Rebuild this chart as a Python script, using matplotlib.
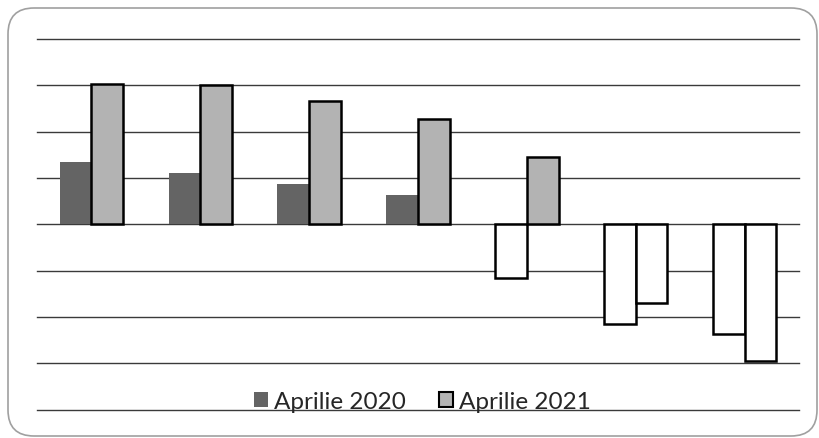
import matplotlib.pyplot as plt
from matplotlib.patches import FancyBboxPatch, Patch
from matplotlib.transforms import IdentityTransform
import numpy as np

grupe = ['1', '2', '3', '4', '5', '6', '7']
aprilie_2020 = [1.34, 1.10, 0.86, 0.64, -1.16, -2.15, -2.37]
aprilie_2021 = [3.02, 3.00, 2.67, 2.27, 1.46, -1.70, -2.94]

col_2020 = '#646464'
col_2021 = '#b3b3b3'

plt.rcParams['font.family'] = ['Lato', 'DejaVu Sans']

fig = plt.figure(figsize=(8.19, 4.39), dpi=100)
ax = fig.add_axes([37/819, 1 - 410.7/439, (799-37)/819, (410.7-40)/439])

x = np.arange(len(grupe))
w = 0.291

# barele negative sunt albe (invert if negative)
fc1 = [col_2020 if v >= 0 else 'white' for v in aprilie_2020]
ec1 = ['none' if v >= 0 else 'black' for v in aprilie_2020]
fc2 = [col_2021 if v >= 0 else 'white' for v in aprilie_2021]
ax.bar(x - w/2, aprilie_2020, w, color=fc1, edgecolor=ec1, linewidth=1.8, zorder=3)
ax.bar(x + w/2, aprilie_2021, w, color=fc2, edgecolor='black', linewidth=1.8, zorder=3)

ax.set_xlim(-0.5, 6.5)
ax.set_ylim(-4, 4)
ax.set_yticks(np.arange(-4, 5, 1))
ax.grid(axis='y', color='#3a3a3a', linewidth=1.0, zorder=0)
for gl in ax.get_ygridlines():
    gl.set_clip_on(False)
ax.set_axisbelow(True)
ax.tick_params(length=0, labelbottom=False, labelleft=False)
for s in ax.spines.values():
    s.set_visible(False)
ax.patch.set_alpha(0)

handles = [Patch(facecolor=col_2020, edgecolor='none'),
           Patch(facecolor=col_2021, edgecolor='black', linewidth=1.5)]
fig.legend(handles, ['Aprilie 2020', 'Aprilie 2021'], loc='lower center',
           bbox_to_anchor=(0.516, 0.01), ncol=2, frameon=False, fontsize=17.5,
           handlelength=0.58, handleheight=0.58, handletextpad=0.25, columnspacing=1.36,
           labelcolor='#262626')

# chenarul rotunjit
fig.patches.append(FancyBboxPatch((8 + 26, 2 + 26), 809 - 52, 428 - 52,
                                  boxstyle='round,pad=26', transform=IdentityTransform(),
                                  facecolor='none', edgecolor='#a0a0a0', linewidth=1.2,
                                  figure=fig))

fig.savefig('out.png', dpi=100)
